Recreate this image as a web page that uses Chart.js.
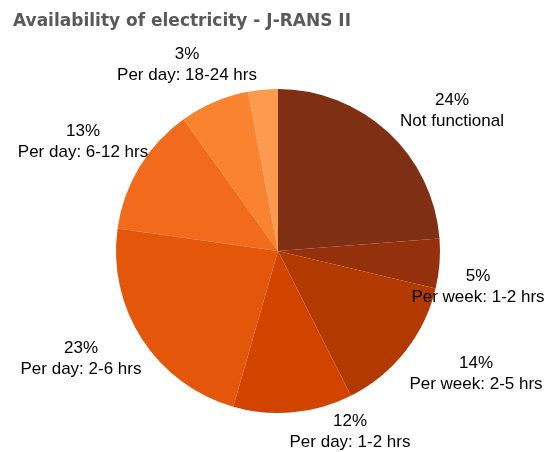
<!DOCTYPE html>
<html>
<head>
<meta charset="utf-8">
<script src="https://cdn.jsdelivr.net/npm/chart.js@4/dist/chart.umd.min.js"></script>
<style>
  html, body { margin: 0; padding: 0; background: #fff; }
  #wrap { width: 547px; height: 452px; position: relative; }
</style>
</head>
<body>
<div id="wrap"><canvas id="elecChart"></canvas></div>
<script>
const chartTitle = 'Availability of electricity - J-RANS II';
const categories = ['Not functional', 'Per week: 1-2 hrs', 'Per week: 2-5 hrs', 'Per day: 1-2 hrs',
                    'Per day: 2-6 hrs', 'Per day: 6-12 hrs', 'Per day: 12-18 hrs', 'Per day: 18-24 hrs'];
const values = [24, 5, 14, 12, 23, 13, 7, 3];
const percentLabels = ['24%', '5%', '14%', '12%', '23%', '13%', '', '3%'];
const sliceColors = ['#7F2F14', '#95300D', '#B23A00', '#D04400', '#E4570A', '#F26B1C', '#F9832E', '#FC9A4F'];

// label centres, relative to the pie centre (Excel "best fit" placement)
const labelOffsets = [[174, -141], [200, 35], [198, 122], [72, 180], [-197, 107], [-195, -110], null, [-91, -187]];

const ctx = document.getElementById('elecChart').getContext('2d');

const labelPlugin = {
    id: 'sliceLabels',
    afterDraw(chart) {
        const c = chart.ctx;
        const arc = chart.getDatasetMeta(0).data[0];
        const cx = arc.x, cy = arc.y;
        c.save();
        // title
        c.fillStyle = '#595959';
        c.font = 'bold 17px "DejaVu Sans"';
        c.textAlign = 'left';
        c.textBaseline = 'alphabetic';
        c.fillText(chartTitle, 13, 26);
        // slice labels
        c.fillStyle = '#000';
        c.font = '17px "Liberation Sans", Arial, sans-serif';
        c.textAlign = 'center';
        c.textBaseline = 'middle';
        labelOffsets.forEach((off, i) => {
            if (!off) return;
            const x = cx + off[0], y = cy + off[1];
            c.fillText(percentLabels[i], x, y - 10);
            c.fillText(categories[i], x, y + 11);
        });
        c.restore();
    }
};

const chart = new Chart(ctx, {
    type: 'pie',
    data: {
        labels: categories,
        datasets: [{
            data: values,
            backgroundColor: sliceColors,
            borderWidth: 0
        }]
    },
    options: {
        responsive: true,
        maintainAspectRatio: false,
        animation: false,
        layout: {
            padding: { top: 89, bottom: 39, left: 116, right: 107 }
        },
        plugins: {
            legend: { display: false },
            tooltip: { enabled: false }
        }
    },
    plugins: [labelPlugin]
});
</script>
</body>
</html>
